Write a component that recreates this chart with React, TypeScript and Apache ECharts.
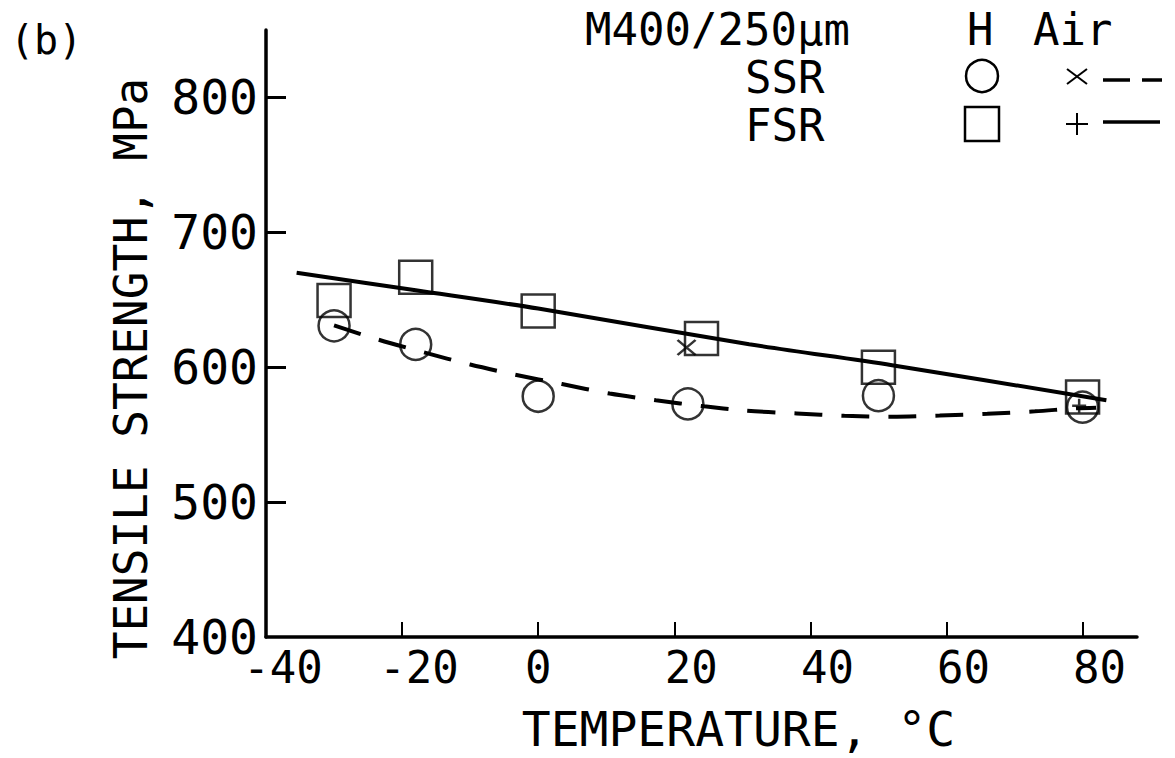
import React, { useEffect, useRef } from "react";
import * as echarts from "echarts";

const FONT = "DejaVu Sans Mono";

const xTicks = [-40, -20, 0, 20, 40, 60, 80];
const yTicks = [400, 500, 600, 700, 800];

// FSR, H (squares)
const fsrH: [number, number][] = [
  [-30, 649.4], [-18, 666.7], [0, 641.7], [24, 621.3], [50, 599.9], [80, 578],
];
// SSR, H (circles)
const ssrH: [number, number][] = [
  [-30, 630.7], [-18, 616.9], [0, 578.5], [22, 572.8], [50, 578.9], [80, 570.4],
];
// SSR, Air (×)
const ssrAir: [number, number][] = [[21.8, 614.6]];
// FSR, Air (+)
const fsrAir: [number, number][] = [[79.5, 571.5]];

// fitted curves
const fsrLine: [number, number][] = [
  [-35.5, 670], [-18, 657], [0, 643.5], [31, 617], [52, 601.5], [83.5, 575.5],
];
const ssrLine: [number, number][] = [
  [-30, 631], [-23.5, 620.5], [-16.8, 611], [-10, 602], [-3.4, 594.5], [3.5, 587.5],
  [10.5, 580.5], [17.3, 575.5], [24.4, 571], [30, 568], [38, 565.7], [45, 564],
  [52, 563.3], [59, 564.2], [66, 565.5], [73, 567.3], [79, 569.5], [82, 570],
];

const CROSS = "path://M0,0L10,10M10,0L0,10";
const PLUS = "path://M5,0L5,10M0,5L10,5";

export default function App() {
  const ref = useRef<HTMLDivElement>(null);
  useEffect(() => {
    if (!ref.current) return;
    const chart = echarts.init(ref.current, undefined, { renderer: "svg" });
    const hollow = { color: "rgba(0,0,0,0)", borderColor: "#000", borderWidth: 2.5 };
    const option: any = {
      animation: false,
      backgroundColor: "#fff",
      grid: { left: 266, right: 38, top: 30, bottom: 121, containLabel: false, outerBoundsMode: "none" },
      xAxis: {
        type: "value",
        min: -40,
        max: 88,
        name: "TEMPERATURE, °C",
        nameLocation: "middle",
        nameGap: 68,
        nameTextStyle: { fontFamily: FONT, fontSize: 48, color: "#000", padding: [0, 0, 0, 74] },
        axisLine: { show: true, onZero: false, lineStyle: { color: "#000", width: 3.5 } },
        axisTick: { show: true, inside: true, length: 15, lineStyle: { color: "#000", width: 2 }, customValues: [-20, 0, 20, 40, 60, 80] },
        axisLabel: {
          customValues: xTicks,
          margin: 8,
          color: "#000",
          fontFamily: FONT,
          fontSize: 44,
          formatter: (v: number) => (v === 0 ? "{z|0}" : `{s|${v}}`),
          rich: {
            s: { fontFamily: FONT, fontSize: 44, color: "#000", padding: [0, 0, 0, 34] },
            z: { fontFamily: FONT, fontSize: 44, color: "#000" },
          },
        },
        splitLine: { show: false },
      },
      yAxis: {
        type: "value",
        min: 400,
        max: 850,
        name: "TENSILE STRENGTH, MPa",
        nameLocation: "middle",
        nameGap: 112,
        nameTextStyle: { fontFamily: FONT, fontSize: 46, color: "#000", padding: [0, 70, 0, 0] },
        axisLine: { show: true, onZero: false, lineStyle: { color: "#000", width: 3.5 } },
        axisTick: { show: true, inside: true, length: 20, lineStyle: { color: "#000", width: 3 }, customValues: [500, 600, 700, 800] },
        axisLabel: { customValues: yTicks, margin: 8, color: "#000", fontFamily: FONT, fontSize: 48 },
        splitLine: { show: false },
      },
      graphic: [
        { type: "text", left: 10, top: 20, style: { text: "(b)", font: `40px "${FONT}"`, fill: "#000" } },
        { type: "text", x: 585, y: 29, style: { text: "M400/250μm", font: `44px "${FONT}"`, fill: "#000", verticalAlign: "middle" } },
        { type: "text", x: 967, y: 29, style: { text: "H", font: `44px "${FONT}"`, fill: "#000", verticalAlign: "middle" } },
        { type: "text", x: 1033, y: 29, style: { text: "Air", font: `44px "${FONT}"`, fill: "#000", verticalAlign: "middle" } },
        { type: "text", x: 745, y: 77, style: { text: "SSR", font: `44px "${FONT}"`, fill: "#000", verticalAlign: "middle" } },
        { type: "text", x: 745, y: 125, style: { text: "FSR", font: `44px "${FONT}"`, fill: "#000", verticalAlign: "middle" } },
        { type: "circle", shape: { cx: 982, cy: 76, r: 16 }, style: { fill: "none", stroke: "#000", lineWidth: 2.5 } },
        { type: "rect", shape: { x: 965, y: 107, width: 34, height: 34 }, style: { fill: "none", stroke: "#000", lineWidth: 2.5 } },
        { type: "line", shape: { x1: 1067, y1: 69, x2: 1087, y2: 84 }, style: { stroke: "#000", lineWidth: 2 } },
        { type: "line", shape: { x1: 1087, y1: 69, x2: 1067, y2: 84 }, style: { stroke: "#000", lineWidth: 2 } },
        { type: "line", shape: { x1: 1077, y1: 113, x2: 1077, y2: 135 }, style: { stroke: "#000", lineWidth: 2 } },
        { type: "line", shape: { x1: 1066, y1: 124, x2: 1088, y2: 124 }, style: { stroke: "#000", lineWidth: 2 } },
        { type: "line", shape: { x1: 1103, y1: 80, x2: 1162, y2: 80 }, style: { stroke: "#000", lineWidth: 3.5, lineDash: [27, 12] } },
        { type: "line", shape: { x1: 1103, y1: 122, x2: 1160, y2: 122 }, style: { stroke: "#000", lineWidth: 3.5 } },
      ],
      series: [
        { type: "line", data: fsrLine, showSymbol: false, smooth: 0.3, lineStyle: { color: "#000", width: 4 }, z: 2 },
        { type: "line", data: ssrLine, showSymbol: false, smooth: 0.3, lineStyle: { color: "#000", width: 4, type: [28, 19] }, z: 2 },
        { type: "scatter", data: fsrH, symbol: "rect", symbolSize: 33, itemStyle: hollow, z: 3 },
        { type: "scatter", data: ssrH, symbol: "circle", symbolSize: 31, itemStyle: hollow, z: 3 },
        { type: "scatter", data: ssrAir, symbol: CROSS, symbolSize: [18, 15], itemStyle: hollow, z: 3 },
        { type: "scatter", data: fsrAir, symbol: PLUS, symbolSize: 14, itemStyle: hollow, z: 3 },
      ],
    };
    chart.setOption(option);
    return () => chart.dispose();
  }, []);
  return <div ref={ref} style={{ position: "fixed", left: 0, top: 0, width: 1175, height: 758, background: "#fff" }} />;
}
